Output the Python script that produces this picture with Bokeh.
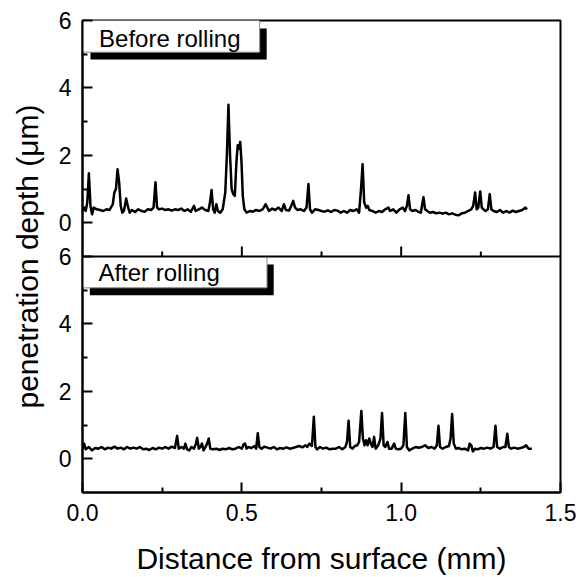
import numpy as np
from bokeh.plotting import figure
from bokeh.models import Range1d, FixedTicker, Span, NumeralTickFormatter
from bokeh.core.properties import value
from bokeh.embed import file_html
from bokeh.resources import INLINE

# ---- data ----
before_x = [0.000, 0.005, 0.010, 0.015, 0.020, 0.025, 0.030, 0.035, 0.045, 0.055,
            0.065, 0.075, 0.085, 0.095, 0.100, 0.105, 0.110, 0.115, 0.120, 0.125,
            0.130, 0.137, 0.142, 0.148, 0.155, 0.165, 0.175, 0.185, 0.195, 0.205,
            0.215, 0.223, 0.229, 0.234, 0.240, 0.250, 0.260, 0.270, 0.280, 0.290,
            0.300, 0.310, 0.320, 0.330, 0.340, 0.350, 0.355, 0.365, 0.375, 0.385,
            0.395, 0.400, 0.405, 0.410, 0.415, 0.420, 0.425, 0.432, 0.440, 0.448,
            0.453, 0.458, 0.463, 0.468, 0.473, 0.478, 0.483, 0.487, 0.491, 0.495,
            0.499, 0.503, 0.508, 0.515, 0.525, 0.535, 0.545, 0.555, 0.565, 0.575,
            0.580, 0.585, 0.595, 0.605, 0.615, 0.625, 0.632, 0.638, 0.648, 0.655,
            0.661, 0.667, 0.675, 0.685, 0.695, 0.703, 0.709, 0.714, 0.720, 0.730,
            0.740, 0.750, 0.760, 0.770, 0.780, 0.790, 0.800, 0.810, 0.820, 0.830,
            0.840, 0.850, 0.860, 0.868, 0.874, 0.879, 0.884, 0.890, 0.895, 0.900,
            0.910, 0.920, 0.930, 0.940, 0.950, 0.960, 0.965, 0.975, 0.985, 0.995,
            1.005, 1.012, 1.018, 1.023, 1.028, 1.035, 1.045, 1.055, 1.062, 1.066,
            1.070, 1.075, 1.082, 1.090, 1.100, 1.110, 1.120, 1.130, 1.140, 1.150,
            1.160, 1.170, 1.180, 1.190, 1.200, 1.210, 1.220, 1.226, 1.232, 1.237,
            1.242, 1.248, 1.253, 1.260, 1.265, 1.272, 1.278, 1.283, 1.290, 1.300,
            1.310, 1.320, 1.330, 1.340, 1.350, 1.360, 1.370, 1.380, 1.390, 1.395]
before_y = [0.35, 0.45, 0.35, 0.60, 1.47, 0.50, 0.25, 0.45, 0.40, 0.38,
            0.35, 0.40, 0.38, 0.55, 0.90, 1.00, 1.59, 1.20, 0.50, 0.30,
            0.35, 0.72, 0.50, 0.30, 0.38, 0.32, 0.40, 0.35, 0.33, 0.40,
            0.38, 0.45, 1.20, 0.45, 0.40, 0.42, 0.38, 0.40, 0.36, 0.40,
            0.38, 0.42, 0.35, 0.40, 0.33, 0.50, 0.35, 0.40, 0.45, 0.38,
            0.35, 0.60, 0.97, 0.40, 0.30, 0.55, 0.35, 0.30, 0.40, 0.90,
            2.00, 3.50, 2.00, 1.00, 0.85, 0.80, 1.80, 2.30, 2.20, 2.40,
            1.80, 0.80, 0.40, 0.30, 0.35, 0.33, 0.38, 0.35, 0.40, 0.55,
            0.45, 0.35, 0.42, 0.38, 0.45, 0.35, 0.55, 0.38, 0.36, 0.50,
            0.65, 0.45, 0.38, 0.40, 0.35, 0.45, 1.15, 0.40, 0.30, 0.40,
            0.38, 0.35, 0.33, 0.37, 0.32, 0.38, 0.36, 0.30, 0.35, 0.30,
            0.38, 0.35, 0.40, 0.30, 1.00, 1.74, 0.60, 0.45, 0.50, 0.38,
            0.35, 0.30, 0.35, 0.32, 0.40, 0.45, 0.35, 0.40, 0.30, 0.40,
            0.45, 0.35, 0.50, 0.82, 0.40, 0.35, 0.38, 0.32, 0.30, 0.55,
            0.76, 0.40, 0.35, 0.30, 0.32, 0.28, 0.30, 0.27, 0.30, 0.25,
            0.28, 0.24, 0.22, 0.28, 0.30, 0.35, 0.40, 0.50, 0.90, 0.40,
            0.45, 0.93, 0.45, 0.38, 0.35, 0.40, 0.85, 0.40, 0.35, 0.32,
            0.38, 0.30, 0.35, 0.30, 0.36, 0.32, 0.35, 0.38, 0.45, 0.40]

after_x = [0.000, 0.005, 0.010, 0.020, 0.030, 0.040, 0.050, 0.060, 0.070, 0.080,
           0.090, 0.100, 0.110, 0.120, 0.130, 0.140, 0.150, 0.160, 0.170, 0.180,
           0.190, 0.200, 0.210, 0.220, 0.230, 0.240, 0.250, 0.260, 0.270, 0.280,
           0.290, 0.297, 0.302, 0.310, 0.318, 0.323, 0.328, 0.335, 0.342, 0.350,
           0.356, 0.360, 0.365, 0.370, 0.375, 0.380, 0.386, 0.391, 0.396, 0.401,
           0.410, 0.420, 0.430, 0.440, 0.450, 0.460, 0.470, 0.480, 0.490, 0.500,
           0.505, 0.510, 0.515, 0.520, 0.530, 0.540, 0.545, 0.550, 0.555, 0.562,
           0.570, 0.580, 0.590, 0.600, 0.610, 0.620, 0.630, 0.640, 0.650, 0.660,
           0.670, 0.680, 0.690, 0.700, 0.705, 0.712, 0.720, 0.726, 0.731, 0.736,
           0.745, 0.755, 0.765, 0.775, 0.785, 0.795, 0.805, 0.815, 0.825, 0.830,
           0.835, 0.840, 0.847, 0.855, 0.862, 0.868, 0.875, 0.880, 0.885, 0.890,
           0.895, 0.900, 0.905, 0.910, 0.915, 0.920, 0.928, 0.935, 0.940, 0.945,
           0.950, 0.957, 0.962, 0.970, 0.978, 0.983, 0.990, 1.000, 1.007, 1.013,
           1.018, 1.025, 1.035, 1.045, 1.055, 1.065, 1.075, 1.085, 1.095, 1.105,
           1.112, 1.117, 1.122, 1.130, 1.140, 1.150, 1.155, 1.160, 1.165, 1.172,
           1.180, 1.190, 1.200, 1.210, 1.215, 1.220, 1.225, 1.232, 1.240, 1.250,
           1.260, 1.270, 1.280, 1.290, 1.296, 1.301, 1.310, 1.320, 1.327, 1.333,
           1.338, 1.345, 1.355, 1.365, 1.375, 1.385, 1.392, 1.400, 1.410]
after_y = [0.30, 0.45, 0.28, 0.35, 0.25, 0.32, 0.30, 0.35, 0.28, 0.33,
           0.30, 0.36, 0.30, 0.33, 0.28, 0.35, 0.30, 0.33, 0.30, 0.35,
           0.28, 0.30, 0.26, 0.32, 0.28, 0.33, 0.30, 0.35, 0.30, 0.36,
           0.32, 0.68, 0.30, 0.35, 0.30, 0.45, 0.28, 0.25, 0.35, 0.30,
           0.45, 0.62, 0.30, 0.35, 0.45, 0.25, 0.35, 0.45, 0.60, 0.30,
           0.28, 0.30, 0.26, 0.30, 0.28, 0.32, 0.28, 0.30, 0.35, 0.30,
           0.42, 0.45, 0.30, 0.35, 0.32, 0.38, 0.30, 0.76, 0.35, 0.30,
           0.36, 0.33, 0.30, 0.35, 0.28, 0.32, 0.30, 0.34, 0.30, 0.32,
           0.35, 0.38, 0.34, 0.40, 0.35, 0.45, 0.38, 1.25, 0.35, 0.28,
           0.35, 0.30, 0.33, 0.28, 0.30, 0.30, 0.35, 0.28, 0.35, 0.50,
           1.13, 0.35, 0.30, 0.38, 0.40, 0.50, 1.42, 0.60, 0.40, 0.55,
           0.40, 0.60, 0.45, 0.35, 0.65, 0.30, 0.40, 0.60, 1.36, 0.40,
           0.35, 0.50, 0.30, 0.30, 0.45, 0.30, 0.28, 0.30, 0.40, 1.36,
           0.35, 0.25, 0.30, 0.35, 0.33, 0.35, 0.40, 0.32, 0.35, 0.30,
           0.40, 0.98, 0.35, 0.30, 0.35, 0.38, 0.60, 1.33, 0.45, 0.30,
           0.32, 0.28, 0.30, 0.25, 0.45, 0.40, 0.22, 0.30, 0.28, 0.32,
           0.30, 0.33, 0.30, 0.35, 0.98, 0.35, 0.30, 0.35, 0.35, 0.74,
           0.35, 0.30, 0.33, 0.30, 0.32, 0.35, 0.40, 0.30, 0.30]

x_major_ticks = [0.0, 0.5, 1.0, 1.5]
x_minor_ticks = [0.25, 0.75, 1.25]
depth_ticks = [0, 2, 4, 6]
depth_minor_ticks = [1, 3, 5]
panel_labels = ["Before rolling", "After rolling"]

FONT = "Liberation Sans"
PANEL = 7  # data-unit height of one panel (-1 .. 6)

p = figure(width=579, height=577, output_backend="svg", toolbar_location=None,
           x_range=Range1d(0, 1.5), y_range=Range1d(-1, -1 + 2 * PANEL),
           min_border_left=82, min_border_right=19, min_border_top=20,
           min_border_bottom=84, background_fill_color="white",
           border_fill_color="white")
p.extra_y_ranges = {"top": Range1d(-1 - PANEL, 6)}
p.grid.visible = False
p.outline_line_color = "black"
p.outline_line_width = 2
p.outline_line_alpha = 1

# axes
ymaj = depth_ticks + [t + PANEL for t in depth_ticks]
ymin = depth_minor_ticks + [t + PANEL for t in depth_minor_ticks]
p.yaxis.ticker = FixedTicker(ticks=ymaj, minor_ticks=ymin)
p.yaxis.major_label_overrides = {**{t: str(t) for t in depth_ticks},
                                 **{t + PANEL: str(t) for t in depth_ticks}}
p.xaxis.ticker = FixedTicker(ticks=x_major_ticks, minor_ticks=x_minor_ticks)
p.xaxis.formatter = NumeralTickFormatter(format="0.0")

for ax in (p.xaxis, p.yaxis):
    ax.major_tick_in = 10
    ax.major_tick_out = 0
    ax.minor_tick_in = 5
    ax.minor_tick_out = 0
    ax.major_tick_line_width = 2
    ax.minor_tick_line_width = 2
    ax.axis_line_width = 2
    ax.major_label_text_font = FONT
    ax.major_label_text_font_size = "23px"
    ax.major_label_text_color = "black"
    ax.axis_label_text_font = FONT
    ax.axis_label_text_font_size = "30px"
    ax.axis_label_text_font_style = "normal"
    ax.axis_label_text_color = "black"
    ax.major_label_standoff = 11

p.xaxis.axis_label = "Distance from surface (mm)"
p.xaxis.axis_label_standoff = 18
p.yaxis.axis_label = "penetration depth (\u03bcm)"
p.yaxis.axis_label_standoff = 12

# divider between the two panels with inward ticks of the upper panel
p.add_layout(Span(location=6, dimension="width", line_color="black", line_width=2))
mid_major = [t for t in x_major_ticks if 0 < t < 1.5]
p.ray(x=mid_major, y=6, length=10, length_units="screen", angle=np.pi / 2,
      line_color="black", line_width=2)
p.ray(x=x_minor_ticks, y=6, length=5, length_units="screen", angle=np.pi / 2,
      line_color="black", line_width=2)

# panel label boxes (shadow + white box + text)
p.quad(left=[0.025], right=[0.578], bottom=[4.84], top=[5.76],
       fill_color="black", line_color=None, y_range_name="top")
p.quad(left=[0.0], right=[0.556], bottom=[5.06], top=[6.0],
       fill_color="white", line_color="#8a8a8a", line_width=1, y_range_name="top")
p.text(x=[0.052], y=[5.47], text=[panel_labels[0]], text_font=value(FONT),
       text_font_size="24px", text_baseline="middle", text_color="black",
       y_range_name="top")

p.quad(left=[0.023], right=[0.60], bottom=[4.85], top=[5.76],
       fill_color="black", line_color=None)
p.quad(left=[0.0], right=[0.579], bottom=[5.07], top=[6.0],
       fill_color="white", line_color="#8a8a8a", line_width=1)
p.text(x=[0.05], y=[5.52], text=[panel_labels[1]], text_font=value(FONT),
       text_font_size="24px", text_baseline="middle", text_color="black")

# data lines
p.line(before_x, before_y, y_range_name="top", line_color="black", line_width=2.5,
       line_join="round")
p.line(after_x, after_y, line_color="black", line_width=2.5, line_join="round")

open("out.html", "w").write(file_html(p, INLINE))
